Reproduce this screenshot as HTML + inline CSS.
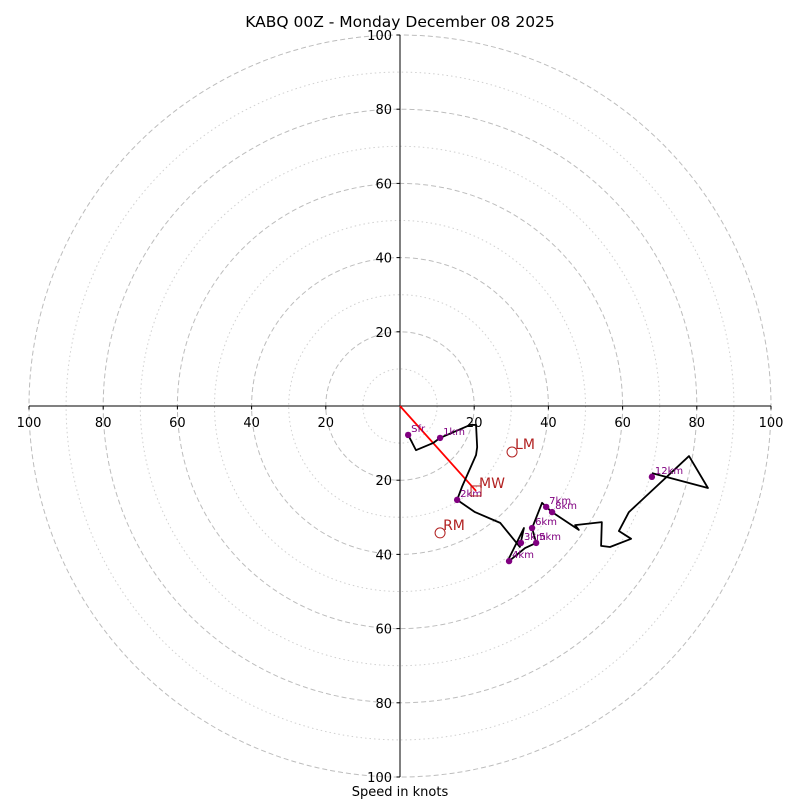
<!DOCTYPE html>
<html><head><meta charset="utf-8"><style>
body{margin:0;background:#fff}
svg{display:block;font-family:"DejaVu Sans","Liberation Sans",sans-serif}
</style></head><body>
<svg id="c" width="800" height="800" viewBox="0 0 800 800">
<text x="400" y="27" text-anchor="middle" font-size="15.5">KABQ 00Z - Monday December 08 2025</text>
<text x="400" y="796" text-anchor="middle" font-size="13">Speed in knots</text>
<g id="rings"></g><g id="axes"></g><g id="trace"></g><g id="marks"></g>
</svg>
<script>
const ringMajor=[20,40,60,80,100];
const ringMinor=[10,30,50,70,90];
const tickVals=[20,40,60,80,100];
const traceU=[2.2,4.3,8.9,10.8,18.9,20.5,20.8,20.5,16.7,15.4,20.2,27.0,32.3,33.4,29.4,29.4,33.7,36.7,35.6,38.3,39.4,41.0,48.2,47.2,54.4,54.2,56.6,62.3,59.0,61.7,77.9,83.0,67.9];
const traceV=[-7.8,-11.9,-10.0,-8.6,-5.1,-5.1,-11.1,-13.2,-21.8,-25.3,-28.6,-31.5,-38.0,-32.9,-41.0,-41.8,-38.3,-36.9,-32.9,-26.1,-27.2,-28.6,-33.4,-32.1,-31.3,-37.7,-38.0,-35.8,-33.7,-28.6,-13.5,-22.1,-18.1];
const hLabels=["Sfr","1km","2km","3km","4km","5km","6km","7km","8km","12km"];
const hU=[2.2,10.8,15.4,32.6,29.4,36.7,35.6,39.4,41.0,67.9];
const hV=[-7.8,-8.6,-25.3,-36.9,-41.8,-36.9,-32.9,-27.2,-28.6,-19.1];
const smLabels=["LM","MW","RM"];
const smU=[30.2,20.5,10.8];
const smV=[-12.4,-22.9,-34.2];
const NS="http://www.w3.org/2000/svg";
const cx=400,cy=406,k=3.71;
const X=u=>cx+u*k, Y=v=>cy-v*k;
function mk(t,a,p){const e=document.createElementNS(NS,t);for(const q in a)e.setAttribute(q,a[q]);p.appendChild(e);return e;}
const rings=document.getElementById('rings');
ringMinor.forEach(r=>{const e=mk('circle',{cx:cx,cy:cy,r:r*k,fill:'none',stroke:'#d0d0d0','stroke-dasharray':'1.5,3'},rings);

});
ringMajor.forEach(r=>{const e=mk('circle',{cx:cx,cy:cy,r:r*k,fill:'none',stroke:'#bdbdbd','stroke-dasharray':'5,3'},rings);

});
const ax=document.getElementById('axes');
let e=mk('line',{x1:X(-100),y1:cy,x2:X(100),y2:cy,stroke:'#000'},ax);


e=mk('line',{x1:cx,y1:Y(100),x2:cx,y2:Y(-100),stroke:'#000'},ax);


tickVals.forEach(t=>{[t,-t].forEach(s=>{
 mk('line',{x1:X(s),y1:cy,x2:X(s),y2:cy+3.5,stroke:'#000'},ax);
 let tx=mk('text',{x:X(s),y:cy+21,'text-anchor':'middle','font-size':13},ax);tx.textContent=t;
 
 
 mk('line',{x1:cx-3.5,y1:Y(s),x2:cx,y2:Y(s),stroke:'#000'},ax);
 let ty=mk('text',{x:cx-8,y:Y(s)+5,'text-anchor':'end','font-size':13},ax);ty.textContent=t;
 
 
});});
const tr=document.getElementById('trace');
e=mk('line',{x1:cx,y1:cy,x2:X(smU[1]),y2:Y(smV[1]),stroke:'red','stroke-width':1.8},tr);


e=mk('polyline',{points:traceU.map((u,i)=>X(u)+','+Y(traceV[i])).join(' '),fill:'none',stroke:'#000','stroke-width':1.8,'stroke-linejoin':'round'},tr);


const m=document.getElementById('marks');
hLabels.forEach((l,i)=>{
 const c=mk('circle',{cx:X(hU[i]),cy:Y(hV[i]),r:3.2,fill:'purple'},m);
 
 
 const t=mk('text',{x:X(hU[i])+3,y:Y(hV[i])-3,'font-size':10,fill:'purple'},m);t.textContent=l;
 
 
});
smLabels.forEach((l,i)=>{
 let s;
 if(l==='MW'){s=mk('rect',{x:X(smU[i])-5,y:Y(smV[i])-5,width:10,height:10,fill:'none',stroke:'#b22222'},m);}
 else{s=mk('circle',{cx:X(smU[i]),cy:Y(smV[i]),r:5,fill:'none',stroke:'#b22222'},m);}
 
 
 const t=mk('text',{x:X(smU[i])+3,y:Y(smV[i])-3,'font-size':14,fill:'#b22222'},m);t.textContent=l;
 
 
});
</script>
</body></html>
